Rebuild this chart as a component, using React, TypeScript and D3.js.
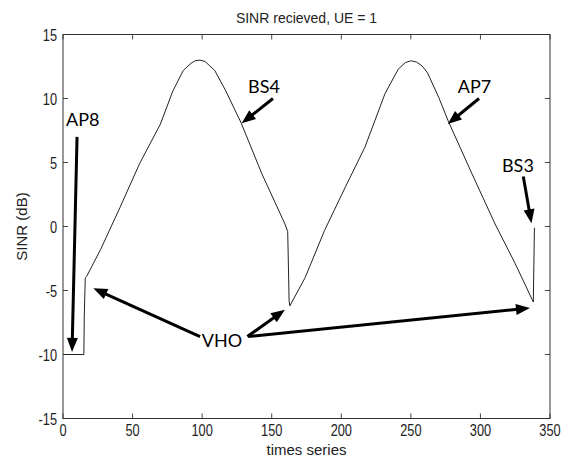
import React from "react";
import * as d3 from "d3";

const times = [1, 15, 15.3, 16, 17, 27, 41, 55, 70, 79, 86.5, 92, 95, 98.5, 102, 105, 109, 116.5, 128, 143, 159.5, 161.5, 162.5, 163, 174, 188, 203, 217, 231.5, 241, 246, 250, 254, 258, 262, 270, 277, 294, 310.5, 325, 338, 338.8];
const sinr = [-10, -10, -7, -4, -3.9, -1.8, 1.5, 4.9, 8.0, 10.6, 12.2, 12.75, 12.95, 13.0, 12.9, 12.6, 12.2, 10.7, 8.1, 4.1, 0.2, -0.4, -5.8, -6.2, -4.0, -0.3, 3.1, 6.2, 10.4, 12.3, 12.8, 12.95, 12.85, 12.55, 12.0, 10.1, 8.2, 4.1, 0.2, -2.9, -5.9, -0.1];

const xTicks = [0, 50, 100, 150, 200, 250, 300, 350];
const yTicks = [-15, -10, -5, 0, 5, 10, 15];

const title = "SINR recieved, UE = 1";
const xLabel = "times series";
const yLabel = "SINR (dB)";

// annotation labels in data units
const labelNames = ["AP8", "BS4", "AP7", "BS3", "VHO"];
const labelX = [2.2, 133, 283.7, 315.5, 99.7];
const labelY = [7.85, 10.4, 10.4, 4.26, -9.4];

// arrows: from (x0,y0) to (x1,y1) in data units
const arrowX0 = [10.1, 150.9, 299, 330.8, 98.5, 132.5, 133.2];
const arrowY0 = [7.0, 10.0, 10.0, 3.9, -8.6, -8.6, -8.6];
const arrowX1 = [6.5, 128.4, 276.5, 336.7, 21.8, 159.5, 335.6];
const arrowY1 = [-9.8, 8.06, 8.0, 0.25, -4.83, -6.5, -6.37];

const W = 561;
const H = 459;
const left = 63, right = 550, top = 34.5, bottom = 418.5;

export default function App() {
  const x = d3.scaleLinear().domain([0, 350]).range([left, right]);
  const y = d3.scaleLinear().domain([-15, 15]).range([bottom, top]);
  const pts: [number, number][] = times.map((t, i) => [t, sinr[i]]);
  const line = d3.line<[number, number]>().x(d => x(d[0])).y(d => y(d[1]));
  const font = "'Liberation Sans', Arial, sans-serif";
  const textColor = "#222";
  const tl = 5;

  const arrows = arrowX0.map((_, i) => {
    const x0 = x(arrowX0[i]), y0 = y(arrowY0[i]);
    const x1 = x(arrowX1[i]), y1 = y(arrowY1[i]);
    const dx = x1 - x0, dy = y1 - y0;
    const len = Math.hypot(dx, dy);
    const ux = dx / len, uy = dy / len;
    const hl = 14, hw = 5.5;
    const bx = x1 - ux * hl, by = y1 - uy * hl;
    const px = -uy, py = ux;
    const head = `${x1},${y1} ${bx + px * hw},${by + py * hw} ${bx - px * hw},${by - py * hw}`;
    return (
      <g key={i}>
        <line x1={x0} y1={y0} x2={bx + ux * 2} y2={by + uy * 2} stroke="#000" strokeWidth={3} />
        <polygon points={head} fill="#000" />
      </g>
    );
  });

  return (
    <svg width={W} height={H} style={{ position: "absolute", left: 0, top: 0, background: "#fff" }}>
      <rect x={0} y={0} width={W} height={H} fill="#fff" />
      {xTicks.map(t => (
        <g key={"xt" + t}>
          <line x1={x(t)} x2={x(t)} y1={bottom} y2={bottom - tl} stroke="#444" />
          <line x1={x(t)} x2={x(t)} y1={top} y2={top + tl} stroke="#444" />
          <text transform={`translate(${x(t)},436) scale(0.8,1)`} textAnchor="middle" fontFamily={font} fontSize={16} fill={textColor}>{t}</text>
        </g>
      ))}
      {yTicks.map(t => (
        <g key={"yt" + t}>
          <line x1={left} x2={left + tl} y1={y(t)} y2={y(t)} stroke="#444" />
          <line x1={right} x2={right - tl} y1={y(t)} y2={y(t)} stroke="#444" />
          <text transform={`translate(57,${y(t) + 6}) scale(0.8,1)`} textAnchor="end" fontFamily={font} fontSize={16} fill={textColor}>{t}</text>
        </g>
      ))}
      <rect x={left} y={top} width={right - left} height={bottom - top} fill="none" stroke="#333" strokeWidth={1} />
      <path d={line(pts) || ""} fill="none" stroke="#222" strokeWidth={1} />
      <text x={(left + right) / 2} y={23} textAnchor="middle" fontFamily={font} fontSize={14} fill={textColor}>{title}</text>
      <text x={(left + right) / 2} y={455} textAnchor="middle" fontFamily={font} fontSize={15} fill={textColor}>{xLabel}</text>
      <text transform={`translate(27,${(top + bottom) / 2}) rotate(-90)`} textAnchor="middle" fontFamily={font} fontSize={15} fill={textColor}>{yLabel}</text>
      {labelNames.map((n, i) => (
        <text key={n} x={x(labelX[i])} y={y(labelY[i])} fontFamily="Lato, 'Open Sans', sans-serif" fontSize={18} fill="#000">{n}</text>
      ))}
      {arrows}
    </svg>
  );
}
